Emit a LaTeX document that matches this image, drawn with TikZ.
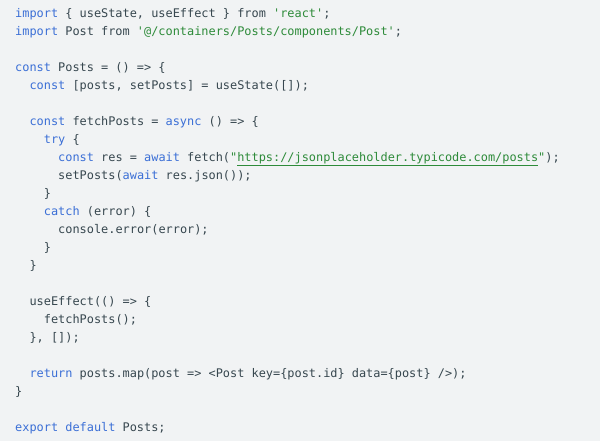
\documentclass[tikz,border=0pt]{standalone}
\usepackage{fontspec}
\setmonofont{DejaVu Sans Mono}
\definecolor{bgc}{HTML}{F1F3F4}
\definecolor{kwc}{HTML}{3B6FD6}
\definecolor{strc}{HTML}{2E8B3A}
\definecolor{txc}{HTML}{37474F}
\newcommand{\kw}[1]{\textcolor{kwc}{#1}}
\newcommand{\str}[1]{\textcolor{strc}{#1}}
\tikzset{codeline/.style={anchor=base west,inner sep=0pt,text=txc,font=\ttfamily\fontsize{11.9bp}{18bp}\selectfont}}
\newcommand{\cl}[4]{\node[codeline] (#1) at ({15bp+#3*7.17bp},{-17bp-(#2-1)*18bp}) {#4};}
\begin{document}
\begin{tikzpicture}
\fill[bgc] (0,0) rectangle (600bp,-441bp);
\useasboundingbox (0,0) rectangle (600bp,-441bp);
\cl{l1}{1}{0}{\kw{import} \{ useState, useEffect \} from \str{'react'};}
\cl{l2}{2}{0}{\kw{import} Post from \str{'@/containers/Posts/components/Post'};}
\cl{l4}{4}{0}{\kw{const} Posts = () => \{}
\cl{l5}{5}{2}{\kw{const} [posts, setPosts] = useState([]);}
\cl{l7}{7}{2}{\kw{const} fetchPosts = \kw{async} () => \{}
\cl{l8}{8}{4}{\kw{try} \{}
\cl{l9}{9}{6}{\kw{const} res = \kw{await} fetch(\str{"\underline{https://jsonplaceholder.typicode.com/posts}"});}
\cl{l10}{10}{6}{setPosts(\kw{await} res.json());}
\cl{l11}{11}{4}{\}}
\cl{l12}{12}{4}{\kw{catch} (error) \{}
\cl{l13}{13}{6}{console.error(error);}
\cl{l14}{14}{4}{\}}
\cl{l15}{15}{2}{\}}
\cl{l17}{17}{2}{useEffect(() => \{}
\cl{l18}{18}{4}{fetchPosts();}
\cl{l19}{19}{2}{\}, []);}
\cl{l21}{21}{2}{\kw{return} posts.map(post => <Post key=\{post.id\} data=\{post\} />);}
\cl{l22}{22}{0}{\}}
\cl{l24}{24}{0}{\kw{export} \kw{default} Posts;}
\end{tikzpicture}
\end{document}
